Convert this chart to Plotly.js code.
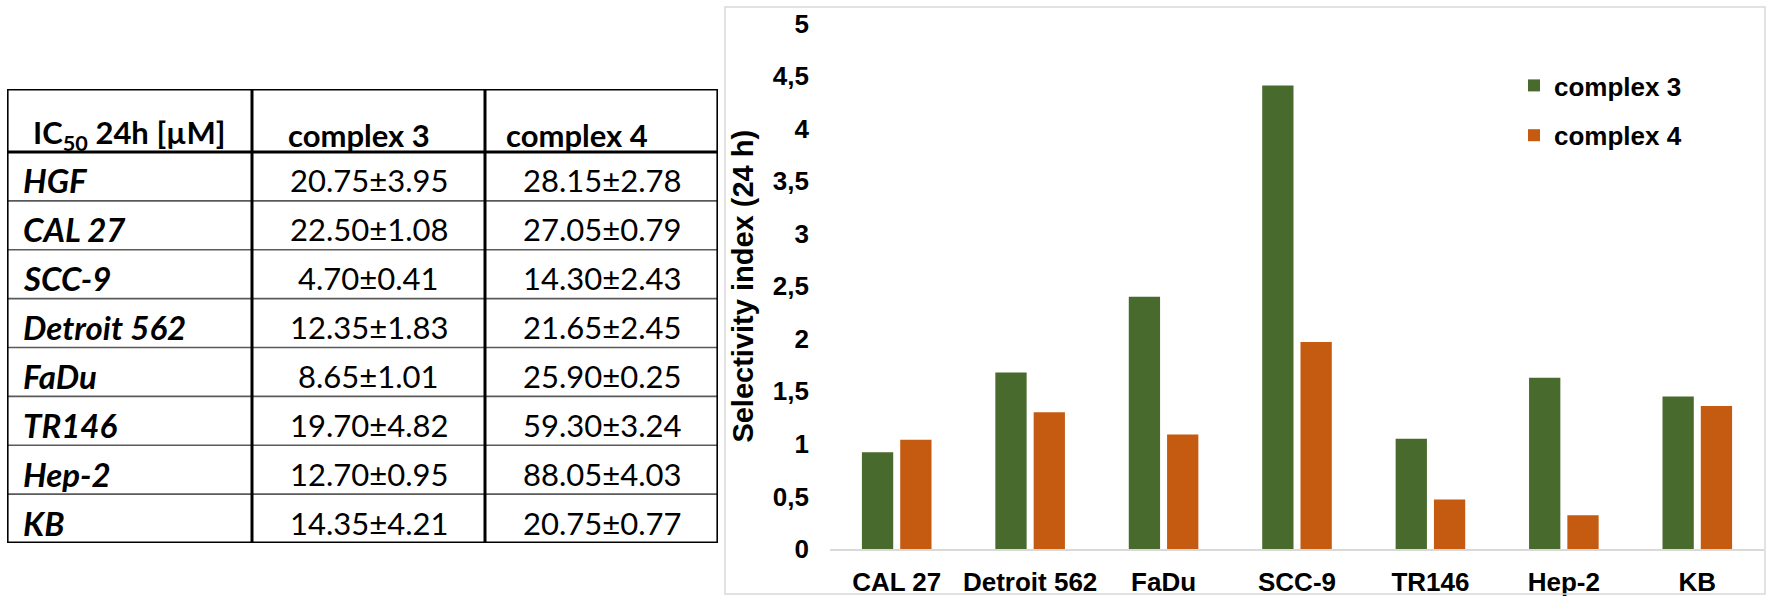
<!DOCTYPE html>
<html><head><meta charset="utf-8">
<script src="https://cdn.plot.ly/plotly-3.0.1.min.js"></script>
<style>html,body{margin:0;padding:0;background:#fff}</style>
</head><body><div id="chart" style="width:1772px;height:601px"></div>
<script>
// ---- data ----
const categories = ['CAL 27', 'Detroit 562', 'FaDu', 'SCC-9', 'TR146', 'Hep-2', 'KB'];
const complex3SI = [0.92, 1.68, 2.40, 4.41, 1.05, 1.63, 1.45];
const complex4SI = [1.04, 1.30, 1.09, 1.97, 0.47, 0.32, 1.36];
const yTickVals = [0, 0.5, 1, 1.5, 2, 2.5, 3, 3.5, 4, 4.5, 5];
const yTickLabels = ['0', '0,5', '1', '1,5', '2', '2,5', '3', '3,5', '4', '4,5', '5'];
const seriesNames = ['complex 3', 'complex 4'];
const tableHeader = ['IC<sub>50</sub> 24h [µM]', 'complex 3', 'complex 4'];
const cellLines = ['HGF', 'CAL 27', 'SCC-9', 'Detroit 562', 'FaDu', 'TR146', 'Hep-2', 'KB'];
const ic50Complex3 = ['20.75±3.95', '22.50±1.08', '4.70±0.41', '12.35±1.83', '8.65±1.01', '19.70±4.82', '12.70±0.95', '14.35±4.21'];
const ic50Complex4 = ['28.15±2.78', '27.05±0.79', '14.30±2.43', '21.65±2.45', '25.90±0.25', '59.30±3.24', '88.05±4.03', '20.75±0.77'];

// ---- styles / geometry ----
const W = 1772, H = 601;
const GREEN = '#486a2c', ORANGE = '#c55a11';
const colWidths = [245, 233, 233];
const headerH = 63, rowH = 48.875;
const tableFont = 'Lato, "Open Sans", sans-serif';
const chartFont = '"Liberation Sans", Arial, sans-serif';
const headerPlace = [['center', 0], ['center', -10], ['left', 19]];

const colEdges = [0];
colWidths.forEach(w => colEdges.push(colEdges[colEdges.length - 1] + w));
const tableTotalW = colEdges[colEdges.length - 1];
const tableTotalH = headerH + cellLines.length * rowH;
const rowTop = i => headerH + i * rowH;
const colCenter = j => (colEdges[j] + colEdges[j + 1]) / 2;

const annotations = [];
tableHeader.forEach((h, j) => {
  const [anc, off] = headerPlace[j];
  const xPos = anc === 'left' ? colEdges[j] : colCenter(j);
  annotations.push({xref: 'x2', yref: 'y2', x: xPos, y: headerH / 2, text: '<b>' + h + '</b>',
    showarrow: false, xanchor: anc, yanchor: 'middle', xshift: off, yshift: -14,
    font: {family: tableFont, size: 31, color: '#000'}});
});
const bodyCols = [cellLines, ic50Complex3, ic50Complex4];
bodyCols.forEach((col, j) => {
  col.forEach((v, i) => {
    const yc = rowTop(i) + rowH / 2;
    if (j === 0) {
      annotations.push({xref: 'x2', yref: 'y2', x: colEdges[0] + 14, y: yc, text: '<b><i>' + v + '</i></b>',
        showarrow: false, xanchor: 'left', yanchor: 'middle', yshift: -4,
        font: {family: tableFont, size: 33, color: '#000'}});
    } else {
      annotations.push({xref: 'x2', yref: 'y2', x: colCenter(j), y: yc, text: v,
        showarrow: false, xanchor: 'center', yanchor: 'middle', yshift: -4,
        font: {family: tableFont, size: 31, color: '#000'}});
    }
  });
});

const shapes = [];
for (let i = 1; i < cellLines.length; i++) {
  shapes.push({type: 'line', xref: 'x2', yref: 'y2', x0: 0, x1: tableTotalW, y0: rowTop(i), y1: rowTop(i),
    line: {color: '#5a5a5a', width: 1.6}});
}
shapes.push({type: 'line', xref: 'x2', yref: 'y2', x0: 0, x1: tableTotalW, y0: headerH, y1: headerH,
  line: {color: '#000', width: 3}});
for (let j = 1; j < colWidths.length; j++) {
  shapes.push({type: 'line', xref: 'x2', yref: 'y2', x0: colEdges[j], x1: colEdges[j], y0: 0, y1: tableTotalH,
    line: {color: '#000', width: 3}});
}
shapes.push({type: 'rect', xref: 'x2', yref: 'y2', x0: 0, x1: tableTotalW, y0: 0, y1: tableTotalH,
  line: {color: '#000', width: 3.2}});
shapes.push({type: 'rect', xref: 'paper', yref: 'paper', x0: 725 / W, x1: 1765 / W, y0: 1 - 594 / H, y1: 1 - 7 / H,
  line: {color: '#d9d9d9', width: 1.5}});

const traces = [
  {type: 'bar', name: seriesNames[0], x: categories, y: complex3SI, marker: {color: GREEN}, legendgroup: 'a', hoverinfo: 'skip'},
  {type: 'bar', name: seriesNames[1], x: categories, y: complex4SI, marker: {color: ORANGE}, legendgroup: 'b', hoverinfo: 'skip'}
];

const layout = {
  width: W, height: H, autosize: false,
  margin: {l: 0, r: 0, t: 0, b: 0},
  paper_bgcolor: '#fff', plot_bgcolor: 'rgba(0,0,0,0)',
  barmode: 'group', bargap: 0.426, bargroupgap: 0.183,
  font: {family: chartFont, color: '#000'},
  xaxis: {domain: [830 / W, 1764 / W], type: 'category', showline: true, linecolor: '#d9d9d9', linewidth: 1.5,
    ticks: '', showgrid: false, zeroline: false, fixedrange: true, ticklabelstandoff: 9,
    tickfont: {family: chartFont, size: 26, color: '#000', weight: 'bold'}},
  yaxis: {domain: [1 - 549 / H, 1 - 23.5 / H], range: [0, 5], tickmode: 'array', tickvals: yTickVals, ticktext: yTickLabels,
    showline: false, showgrid: false, zeroline: false, ticks: '', fixedrange: true, ticklabelstandoff: 20,
    tickfont: {family: chartFont, size: 26, color: '#000', weight: 'bold'},
    title: {text: 'Selectivity index (24 h)', standoff: 10, font: {family: chartFont, size: 29, color: '#000', weight: 'bold'}}},
  xaxis2: {domain: [7 / W, 718 / W], range: [0, tableTotalW], visible: false, fixedrange: true, anchor: 'y2'},
  yaxis2: {domain: [1 - 543 / H, 1 - 89 / H], range: [tableTotalH, 0], visible: false, fixedrange: true, anchor: 'x2'},
  showlegend: true,
  legend: {x: 1514 / W, y: 1 - 62 / H, xanchor: 'left', yanchor: 'top', traceorder: 'grouped', tracegroupgap: 13,
    bgcolor: 'rgba(0,0,0,0)', font: {family: chartFont, size: 26, color: '#000', weight: 'bold'}},
  annotations: annotations,
  shapes: shapes
};

Plotly.newPlot('chart', traces, layout, {displayModeBar: false, staticPlot: true});
</script>
</body></html>
